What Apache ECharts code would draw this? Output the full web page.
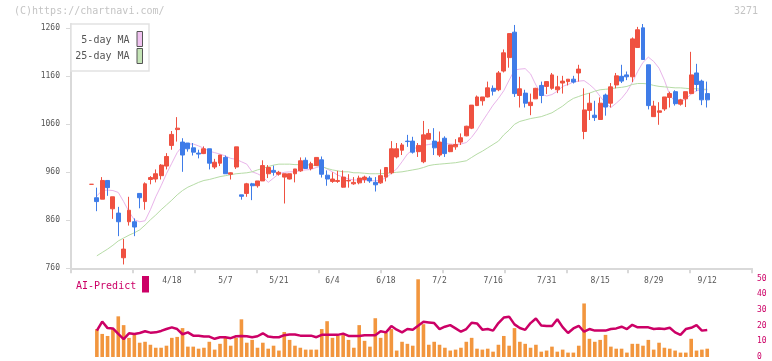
<!DOCTYPE html>
<html><head><meta charset="utf-8">
<script src="https://cdn.jsdelivr.net/npm/echarts@6/dist/echarts.min.js"></script>
<style>html,body{margin:0;padding:0;background:#fff}#c{width:772px;height:361px}</style>
</head><body><div id="c"></div>
<script>
// ---- data ----
const dates = ['3/28','3/31','4/1','4/2','4/3','4/4','4/7','4/8','4/9','4/10',
 '4/11','4/14','4/15','4/16','4/17','4/18','4/21','4/22','4/23','4/24',
 '4/25','4/28','4/30','5/1','5/2','5/7','5/8','5/9','5/12','5/13',
 '5/14','5/15','5/16','5/19','5/20','5/21','5/22','5/23','5/26','5/27',
 '5/28','5/29','5/30','6/2','6/3','6/4','6/5','6/6','6/9','6/10',
 '6/11','6/12','6/13','6/16','6/17','6/18','6/19','6/20','6/23','6/24',
 '6/25','6/26','6/27','6/30','7/1','7/2','7/3','7/4','7/7','7/8',
 '7/9','7/10','7/11','7/14','7/15','7/16','7/17','7/18','7/22','7/23',
 '7/24','7/25','7/28','7/29','7/30','7/31','8/1','8/4','8/5','8/6',
 '8/7','8/8','8/12','8/13','8/14','8/15','8/18','8/19','8/20','8/21',
 '8/22','8/25','8/26','8/27','8/28','8/29','9/1','9/2','9/3','9/4',
 '9/5','9/8','9/9','9/10','9/11','9/12'];
const open = [935,907,904,943,884,875,782,857,857,916,
 899,945,946,953,973,1016,1049,1023,1021,1011,
 1000,999,1009,971,979,991,956,971,913,916,
 936,932,942,957,964,956,950,946,957,963,
 985,968,974,986,954,941,941,929,942,936,
 938,945,948,939,938,950,959,992,1006,1025,
 1025,1003,982,1029,1025,996,1031,1003,1013,1023,
 1036,1052,1099,1109,1117,1135,1132,1171,1199,1252,
 1120,1125,1099,1113,1141,1139,1135,1132,1146,1149,
 1154,1167,1045,1089,1079,1070,1121,1104,1142,1160,
 1163,1159,1220,1261,1184,1076,1085,1092,1116,1128,
 1102,1113,1124,1167,1150,1124];
const close = [935,899,943,928,909,857,800,881,846,907,
 936,949,957,975,993,1039,1052,996,1009,1002,
 998,1009,979,981,996,957,959,1013,910,936,
 932,942,974,970,960,960,957,957,967,984,
 968,978,991,956,946,946,943,950,943,939,
 948,950,942,934,953,970,1009,1009,1017,1024,
 1002,1016,1038,1041,1011,1023,999,1017,1018,1032,
 1056,1100,1117,1117,1136,1129,1167,1209,1249,1124,
 1134,1104,1106,1135,1120,1149,1163,1138,1150,1154,
 1148,1175,1090,1104,1074,1104,1096,1138,1161,1150,
 1159,1238,1257,1195,1099,1098,1088,1117,1124,1103,
 1111,1128,1163,1143,1111,1111];
const low = [935,879,904,911,863,827,768,849,827,885,
 882,935,939,945,966,1007,1024,961,1003,995,
 989,998,966,967,973,957,945,967,903,909,
 902,928,942,948,953,953,895,945,939,961,
 967,964,973,949,932,938,938,928,928,934,
 935,938,938,920,936,941,956,989,996,1013,
 999,992,979,1029,996,992,992,1002,1007,1017,
 1035,1050,1098,1099,1116,1120,1129,1168,1178,1117,
 1095,1095,1079,1113,1104,1123,1132,1125,1124,1141,
 1145,1149,1029,1069,1067,1070,1078,1095,1135,1146,
 1152,1148,1220,1195,1091,1076,1059,1088,1095,1099,
 1099,1096,1124,1129,1100,1095];
const high = [935,928,950,943,909,888,821,909,864,916,
 939,952,966,977,1000,1046,1075,1031,1021,1021,
 1007,1014,1009,988,996,995,960,1013,913,938,
 938,942,985,975,974,963,957,957,967,991,
 991,982,991,993,964,960,963,964,956,950,
 953,953,952,950,966,971,1025,1021,1021,1038,
 1034,1021,1067,1050,1052,1045,1035,1017,1029,1041,
 1057,1100,1120,1117,1149,1141,1171,1216,1249,1267,
 1159,1132,1124,1136,1149,1150,1167,1161,1161,1154,
 1161,1184,1135,1125,1109,1116,1124,1146,1167,1184,
 1170,1241,1263,1269,1184,1109,1106,1117,1128,1131,
 1113,1128,1211,1186,1153,1149];
const ma5 = [null,911,922,923,922,918,899,878,861,857,
 859,882,909,932,957,979,1001,1015,1019,1019,
 1015,1010,1004,1001,998,994,989,987,982,977,
 961,957,951,939,948,957,960,961,961,964,
 965,966,970,973,967,961,954,950,946,944,
 944,943,943,942,944,948,958,967,982,998,
 1007,1014,1016,1018,1020,1020,1020,1019,1018,1019,
 1022,1033,1048,1066,1083,1100,1114,1130,1152,1173,
 1175,1176,1165,1142,1123,1119,1122,1129,1139,1143,
 1148,1150,1151,1143,1133,1118,1104,1095,1104,1114,
 1128,1147,1170,1189,1200,1191,1177,1152,1121,1107,
 1106,1113,1123,1130,1132,1132];
const ma25 = [null,786,793,800,808,817,823,829,834,840,
 850,861,871,882,892,902,913,922,929,934,
 939,943,945,948,951,953,955,957,958,959,
 961,965,968,972,975,977,977,977,976,976,
 976,975,974,972,968,965,963,961,961,959,
 959,958,957,957,957,958,959,960,961,963,
 965,967,970,974,976,977,978,979,980,982,
 984,991,998,1004,1011,1018,1025,1038,1048,1060,
 1066,1069,1072,1074,1076,1080,1084,1091,1098,1107,
 1114,1118,1122,1125,1129,1132,1133,1134,1136,1137,
 1139,1143,1145,1145,1144,1141,1139,1138,1137,1136,
 1136,1135,1134,1134,1133,1133];
const volume = [null,17.8,14.7,13.4,17.8,25.9,20.3,12.2,14.1,9.1,
 9.7,7.8,5.9,5.9,7.2,12.2,12.8,18.4,6.6,6.6,
 5.3,5.9,9.7,4.7,8.4,12.2,7.2,12.2,24.0,9.1,
 10.9,5.9,9.1,5.3,7.2,4.1,15.9,10.9,7.2,5.9,
 4.7,4.7,4.7,17.8,22.8,12.2,13.4,14.7,10.9,5.9,
 20.3,10.3,6.6,24.7,12.2,15.3,17.8,4.1,9.7,8.4,
 7.2,49.5,20.9,7.8,9.7,7.8,5.9,4.1,4.7,5.9,
 9.7,12.2,5.3,4.7,5.3,3.4,7.8,13.4,7.2,18.4,
 9.7,8.4,5.9,7.8,3.4,4.1,6.6,3.4,4.7,2.8,
 2.8,7.2,34.1,11.6,9.7,10.9,14.1,6.6,5.3,5.3,
 2.8,8.4,8.4,7.2,10.9,4.7,9.1,5.9,5.3,4.1,
 2.8,2.8,11.6,4.1,4.7,5.3];
const aiPredict = [null,16.8,22.6,18.4,18.2,14.7,11.4,15.1,14.7,15.3,
 16.4,15.5,15.7,16.6,17.8,18.9,17.8,14.5,15.7,13.6,
 13.6,13.0,13.0,11.6,12.6,12.6,12.0,13.2,13.4,13.2,
 12.6,13.2,15.1,13.0,12.6,12.6,13.9,14.3,14.3,13.6,
 13.6,13.6,12.6,14.1,14.1,14.1,14.1,14.9,13.4,13.4,
 13.4,13.9,13.9,13.9,16.4,15.7,19.7,17.4,15.7,17.8,
 17.4,19.9,22.4,22.0,21.6,17.8,19.3,20.3,18.2,16.1,
 17.8,21.8,21.4,17.4,17.8,16.8,21.6,25.1,25.7,20.8,
 18.5,17.3,21.6,24.5,20.1,19.7,19.7,24.0,19.0,15.3,
 18.2,19.9,16.1,17.8,16.8,16.8,16.8,17.8,18.2,19.3,
 17.8,20.5,18.9,18.9,18.9,17.8,18.2,17.8,18.6,15.7,
 14.1,17.8,18.6,20.3,16.8,17.2];
const priceTicks = [760,860,960,1060,1160,1260];
const labelIdx = [15,25,35,45,55,65,75,85,95,105,115];
const aiTicks = [0,10,20,30,40,50];

// ---- layout: x position = day index + X_OFF, axis starts at 0 ----
const X_OFF = 3.83, X_SPAN = 127.19, Y_MIN = 760, Y_MAX = 1269;
const tickStep = X_SPAN / 11;
const xTicks = Array.from({length: 12}, (_, k) => k * tickStep);
const MONO = '"DejaVu Sans Mono", monospace';
const RED = '#ef5141', BLUE = '#3f7ce8';
const PINK = '#e9b4ea', GREEN = '#b6dca6', MAG = '#cc0066';
const AXIS_GRAY = '#d9d9d9';

const candles = dates.map((d, i) => [i + X_OFF, open[i], close[i], low[i], high[i]]);
const pair = arr => arr.map((v, i) => [i + X_OFF, v]);

const chart = echarts.init(document.getElementById('c'), null, {renderer: 'canvas'});
chart.setOption({
  animation: false,
  backgroundColor: '#fff',
  grid: [
    {left: 71, right: 20, top: 24, bottom: 92.7},
    {left: 71, right: 20, top: 278.5, bottom: 2.5}
  ],
  xAxis: [
    {type: 'value', gridIndex: 0, min: 0, max: X_SPAN, position: 'bottom',
     axisLine: {show: true, onZero: false, lineStyle: {color: AXIS_GRAY, width: 2}},
     axisTick: {show: true, customValues: xTicks, length: 5, lineStyle: {color: AXIS_GRAY, width: 2}},
     axisLabel: {show: true, customValues: labelIdx.map(i => i + X_OFF),
       formatter: v => dates[Math.round(v - X_OFF)] || '',
       color: '#555', fontSize: 8, fontFamily: MONO, margin: 9},
     splitLine: {show: false}},
    {type: 'value', gridIndex: 1, min: 0, max: X_SPAN, show: false, splitLine: {show: false}}
  ],
  yAxis: [
    {type: 'value', gridIndex: 0, min: Y_MIN, max: Y_MAX, position: 'left',
     axisLine: {show: true, lineStyle: {color: AXIS_GRAY, width: 2}},
     axisTick: {show: true, customValues: priceTicks, length: 5, lineStyle: {color: AXIS_GRAY}},
     axisLabel: {show: true, customValues: priceTicks, formatter: v => String(v),
       color: '#555', fontSize: 8, fontFamily: MONO, margin: 11},
     splitLine: {show: false}},
    {type: 'value', gridIndex: 1, min: 0, max: 50, position: 'right',
     axisLine: {show: false, onZero: false}, axisTick: {show: false},
     axisLabel: {show: true, customValues: aiTicks, formatter: v => String(v),
       color: MAG, fontSize: 8, fontFamily: MONO, margin: 5},
     splitLine: {show: false}}
  ],
  series: [
    {type: 'candlestick', xAxisIndex: 0, yAxisIndex: 0, data: candles,
     encode: {x: 0, y: [1, 2, 3, 4]}, barWidth: 4.4, clip: false,
     itemStyle: {color: RED, color0: BLUE, borderColor: RED, borderColor0: BLUE, borderWidth: 1}},
    {type: 'line', name: '5-day MA', xAxisIndex: 0, yAxisIndex: 0, data: pair(ma5),
     showSymbol: false, lineStyle: {color: PINK, width: 1}, z: 1},
    {type: 'line', name: '25-day MA', xAxisIndex: 0, yAxisIndex: 0, data: pair(ma25),
     showSymbol: false, lineStyle: {color: GREEN, width: 1}, z: 1},
    {type: 'bar', xAxisIndex: 1, yAxisIndex: 1, data: pair(volume), barWidth: 3.6,
     itemStyle: {color: '#f2963e'}},
    {type: 'line', xAxisIndex: 1, yAxisIndex: 1, data: pair(aiPredict), showSymbol: false,
     lineStyle: {color: MAG, width: 2.5}, z: 5}
  ]
});

// left frame line of the price panel (frame decoration at the grid's left edge)
let pTop = null, pBot = null;
try {
  pTop = chart.convertToPixel({xAxisIndex: 0, yAxisIndex: 0}, [0, Y_MAX]);
  pBot = chart.convertToPixel({xAxisIndex: 0, yAxisIndex: 0}, [0, Y_MIN]);
} catch (e) {}
const fx = (pTop && isFinite(pTop[0])) ? pTop[0] : 71;
const fy1 = (pTop && isFinite(pTop[1])) ? pTop[1] : 24;
const fy2 = (pBot && isFinite(pBot[1])) ? pBot[1] : 268.3;
chart.setOption({
  graphic: [
    {type: 'rect', shape: {x: fx - 1, y: fy1, width: 2, height: fy2 - fy1},
     style: {fill: AXIS_GRAY}, z: 100},
    {type: 'text', left: 14, top: 6, style: {text: '(C)https://chartnavi.com/', fill: '#c4c4c4', font: '10px ' + MONO}},
    {type: 'text', left: 734, top: 6, style: {text: '3271', fill: '#c4c4c4', font: '10px ' + MONO}},
    {type: 'rect', shape: {x: 71, y: 24, width: 78, height: 47}, style: {fill: '#fff', stroke: '#e2e2e2', lineWidth: 1.5}, z: 101},
    {type: 'text', x: 129.5, y: 40.5, style: {text: '5-day MA', fill: '#555', font: '10px ' + MONO, align: 'right', verticalAlign: 'middle'}, z: 102},
    {type: 'text', x: 129.5, y: 56.5, style: {text: '25-day MA', fill: '#555', font: '10px ' + MONO, align: 'right', verticalAlign: 'middle'}, z: 102},
    {type: 'rect', shape: {x: 137, y: 31.5, width: 5.5, height: 15}, style: {fill: '#f0c2f0', stroke: '#555', lineWidth: 1}, z: 102},
    {type: 'rect', shape: {x: 137, y: 48.5, width: 5.5, height: 15}, style: {fill: '#c4e4b6', stroke: '#555', lineWidth: 1}, z: 102},
    {type: 'text', x: 76, y: 286, style: {text: 'AI-Predict', fill: MAG, font: '10px ' + MONO, verticalAlign: 'middle'}, z: 102},
    {type: 'rect', shape: {x: 142, y: 276, width: 7, height: 16.5}, style: {fill: MAG}, z: 102}
  ]
});
</script></body></html>
